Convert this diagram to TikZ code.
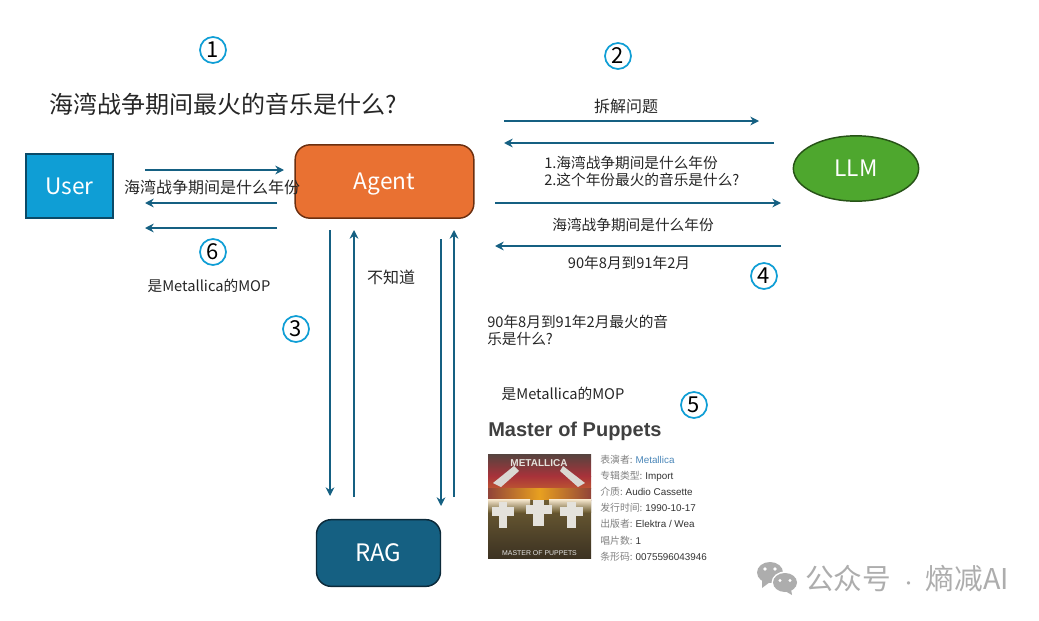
\documentclass[tikz,border=0pt]{standalone}
\usepackage{fontspec}
\usepackage{xcolor}
\setmainfont{Noto Sans CJK SC}
\newfontfamily\coverfont{Liberation Sans}
\usetikzlibrary{shapes.geometric, arrows.meta, positioning, calc}
\definecolor{userblue}{HTML}{0F9ED5}
\definecolor{userline}{HTML}{0A4A68}
\definecolor{agentorange}{HTML}{E97132}
\definecolor{agentline}{HTML}{6B2F10}
\definecolor{llmgreen}{HTML}{4EA72E}
\definecolor{llmline}{HTML}{275317}
\definecolor{ragblue}{HTML}{156082}
\definecolor{ragline}{HTML}{0C2A3A}
\definecolor{textgray}{HTML}{262626}
\definecolor{markgray}{HTML}{ADADAD}
\definecolor{infogray}{HTML}{808080}
\definecolor{infodark}{HTML}{333333}
\definecolor{infoblue}{HTML}{4A86B8}
\definecolor{coversky}{HTML}{55443F}
\definecolor{coverred}{HTML}{A8323A}
\definecolor{coverglow}{HTML}{E8A020}
\definecolor{coverfield}{HTML}{6F5E34}
\definecolor{coverdark}{HTML}{3C3222}
\definecolor{coverwhite}{HTML}{E4E2DC}

\newcommand{\covercross}[4]{%
  \fill[coverwhite] (#1-#3,#2) rectangle (#1+#3,#2+26);
  \fill[coverwhite] (#1-#4,#2+5) rectangle (#1+#4,#2+14);
}

\begin{document}
\begin{tikzpicture}[
    x=0.75pt, y=-0.75pt,
    userbox/.style={rectangle, draw=userline, fill=userblue, line width=1.6pt, minimum width=65pt, minimum height=48pt, inner sep=0pt, text=white, font=\fontsize{17}{20}\selectfont},
    agentbox/.style={rectangle, rounded corners=11pt, draw=agentline, fill=agentorange, line width=1.1pt, minimum width=134pt, minimum height=55pt, inner sep=0pt, text=white, text height=12.5pt, text depth=0pt, font=\fontsize{17}{20}\selectfont},
    llmbox/.style={ellipse, draw=llmline, fill=llmgreen, line width=1.1pt, minimum width=94pt, minimum height=49pt, inner sep=0pt, text=white, font=\fontsize{17}{20}\selectfont},
    ragbox/.style={rectangle, rounded corners=11pt, draw=ragline, fill=ragblue, line width=1.1pt, minimum width=93pt, minimum height=50pt, inner sep=0pt, text=white, font=\fontsize{18}{20}\selectfont},
    arrow/.style={-{Stealth[length=6.5pt,width=6.5pt]}, line width=1.2pt, ragblue},
    stepmark/.style={circle, draw=userblue, line width=1.3pt, fill=white, minimum size=19.5pt, inner sep=0pt, text=black, font=\fontsize{16.5}{18}\selectfont},
    label/.style={inner sep=0pt, text=textgray, font=\fontsize{12}{12.75}\selectfont},
    smalllabel/.style={inner sep=0pt, text=textgray, font=\fontsize{11}{12.75}\selectfont},
    infotext/.style={inner sep=0pt, anchor=west, text=infogray, font=\fontsize{7.4}{8}\selectfont}
]
\useasboundingbox (0,0) rectangle (1039,621);

% Main boxes
\node[userbox] (user) at (69.5,186) {User};
\node[agentbox] (agent) at (384.5,181.5) {Agent};
\node[llmbox] (llm) at (856,168.5) {LLM};
\node[ragbox] (rag) at (378.5,553) {RAG};

% Arrow ends
\coordinate (ua) at (145,170); \coordinate (ub) at (284,170);
\coordinate (ac) at (277,203); \coordinate (ad) at (145,203);
\coordinate (ae) at (277,228); \coordinate (af) at (145,228);
\coordinate (la) at (504,121); \coordinate (lb) at (759,121);
\coordinate (lc) at (774,143); \coordinate (ld) at (504,143);
\coordinate (le) at (495,203); \coordinate (lf) at (781,203);
\coordinate (lg) at (781,246); \coordinate (lh) at (495,246);
\coordinate (ra) at (330,230); \coordinate (rb) at (330,496);
\coordinate (rc) at (354,497); \coordinate (rd) at (354,230);
\coordinate (re) at (441,239); \coordinate (rf) at (441,506);
\coordinate (rg) at (454,497); \coordinate (rh) at (454,230);

% Arrows
\draw[arrow] (ua) -- (ub);
\draw[arrow] (ac) -- (ad);
\draw[arrow] (ae) -- (af);
\draw[arrow] (la) -- (lb);
\draw[arrow] (lc) -- (ld);
\draw[arrow] (le) -- (lf);
\draw[arrow] (lg) -- (lh);
\draw[arrow] (ra) -- (rb);
\draw[arrow] (rc) -- (rd);
\draw[arrow] (re) -- (rf);
\draw[arrow] (rg) -- (rh);

% Labels
\node[label, anchor=west, font=\fontsize{18}{20}\selectfont] (question) at (49.5,104) {海湾战争期间最火的音乐是什么?};
\node[label] (askyear) at (212,187) {海湾战争期间是什么年份};
\node[smalllabel] (answer) at (209,286) {是Metallica的MOP};
\node[label] (split) at (626,106) {拆解问题};
\node[smalllabel, align=left, anchor=west] (subq) at (544,171.5) {1.海湾战争期间是什么年份\\2.这个年份最火的音乐是什么?};
\node[smalllabel] (yearq) at (633,225) {海湾战争期间是什么年份};
\node[smalllabel] (yeara) at (629,263) {90年8月到91年2月};
\node[label] (dontknow) at (391,277) {不知道};
\node[smalllabel, anchor=north west, align=left] (ragq) at (487,315) {90年8月到91年2月最火的音\\乐是什么?};
\node[smalllabel] (raga) at (563,394) {是Metallica的MOP};

% Step marks
\node[stepmark] (s1) at (213,50) {1};
\node[stepmark] (s2) at (618,56) {2};
\node[stepmark] (s3) at (296,329) {3};
\node[stepmark] (s4) at (764,276) {4};
\node[stepmark] (s5) at (694,405) {5};
\node[stepmark] (s6) at (213,252) {6};

% Album card
\node[anchor=west, inner sep=0pt, text=black!75, font=\coverfont\bfseries\fontsize{15}{18}\selectfont] (album) at (488,431) {Master of Puppets};
\begin{scope}
\clip (488,454) rectangle (591,558);
\fill[top color=coversky, bottom color=coverred] (488,454) rectangle (591,476);
\fill[top color=coverred, bottom color=coverred!70!coverglow] (488,476) rectangle (591,488);
\fill[left color=coverred!60!coverfield, right color=coverred!60!coverfield, middle color=coverglow] (488,488) rectangle (591,500);
\fill[top color=coverfield, bottom color=coverdark] (488,500) rectangle (591,558);
% haze at the horizon
\fill[top color=white!80!coverglow, bottom color=coverfield] (488,499) rectangle (530,512);
\fill[top color=white!80!coverglow, bottom color=coverfield] (549,499) rectangle (591,512);
% crosses
\covercross{503}{502}{4}{11}
\covercross{538.5}{500}{5.5}{13}
\covercross{571.5}{502}{4.5}{11.5}
% logo wings
\fill[coverwhite!90!gray] (514,466) -- (493,483) -- (501,487) -- (519,471) -- cycle;
\fill[coverwhite!90!gray] (563,466) -- (585,483) -- (578,487) -- (560,471) -- cycle;
\node[inner sep=0pt, text=coverwhite, font=\coverfont\bfseries\fontsize{7.5}{8}\selectfont] (coverband) at (539,463) {METALLICA};
\node[inner sep=0pt, text=white!80!gray, font=\coverfont\fontsize{5.2}{6}\selectfont] (covertitle) at (539.5,553) {MASTER OF PUPPETS};
\end{scope}
\node[infotext] (i1) at (600,460) {表演者: {\coverfont\color{infoblue}Metallica}};
\node[infotext] (i2) at (600,476) {专辑类型: {\coverfont\color{infodark}Import}};
\node[infotext] (i3) at (600,492) {介质: {\coverfont\color{infodark}Audio Cassette}};
\node[infotext] (i4) at (600,508) {发行时间: {\coverfont\color{infodark}1990-10-17}};
\node[infotext] (i5) at (600,524) {出版者: {\coverfont\color{infodark}Elektra / Wea}};
\node[infotext] (i6) at (600,541) {唱片数: {\coverfont\color{infodark}1}};
\node[infotext] (i7) at (600,557) {条形码: {\coverfont\color{infodark}0075596043946}};

% Watermark
\fill[markgray] (770,572.5) ellipse (13 and 10.5);
\fill[markgray] (762,580) -- (762,588) -- (770,582) -- cycle;
\fill[white] (785,582.5) ellipse (13.5 and 11);
\fill[markgray] (785,582.5) ellipse (12 and 9.5);
\fill[markgray] (791,589) -- (792,595) -- (785,591) -- cycle;
\fill[white] (765,569) circle (1.8) (775,569) circle (1.8) (780,580.5) circle (1.6) (790,580.5) circle (1.6);
\node[inner sep=0pt, anchor=west, text=markgray, font=\fontsize{21.5}{22}\selectfont] (mark) at (805,579) {公众号\hspace{7pt}{\fontsize{12}{12}\selectfont ·}\hspace{7pt}熵减AI};

\end{tikzpicture}
\end{document}
